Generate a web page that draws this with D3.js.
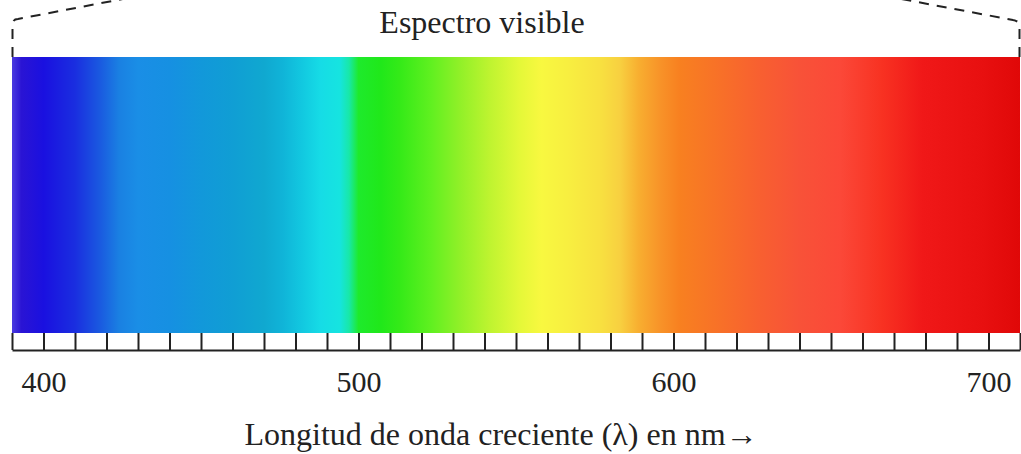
<!DOCTYPE html>
<html>
<head>
<meta charset="utf-8">
<script src="https://cdn.jsdelivr.net/npm/d3@7"></script>
<style>
  body { margin: 0; background: #fff; }
  svg text { font-family: "Liberation Serif", "Times New Roman", Tinos, "DejaVu Serif", serif !important; fill: #222; }
</style>
</head>
<body>
<div id="chart"></div>
<script>
// wavelength range shown (nm)
var domainNm = [390, 710];
// colour stops, by wavelength
var stopNm = [390, 393, 400, 410, 418, 424, 430, 440, 450, 460, 470, 476, 482, 488, 494, 497, 500, 507, 513, 523, 532, 542, 551, 558, 567, 577, 583, 589, 596, 602, 615, 627, 640, 653, 666, 679, 698, 710];
var stopColors = ["#4a3ae0", "#2a14d4", "#1a10e0", "#1a2ee0", "#1a5ae0", "#1a80e2", "#1a8ee6", "#1690e2", "#1298da", "#109ed4", "#10a8d0", "#10b4d8", "#12c8e0", "#16dce6", "#16e4e0", "#18e8a8", "#1eea2c", "#20e81a", "#34ea18", "#60f020", "#90f028", "#c0f430", "#e4f838", "#f8f840", "#f8ee40", "#f8e040", "#f8d040", "#f8ae30", "#f89228", "#f88020", "#f87028", "#f86030", "#f85238", "#fb4838", "#f83222", "#f01818", "#e81010", "#e00808"];
// small ticks every 10 nm, labels every 100 nm
var tickNm = d3.range(390, 711, 10);
var labelNm = [400, 500, 600, 700];
var title = "Espectro visible";
var xTitle = "Longitud de onda creciente (\u03bb) en nm\u2192";

var W = 1021, H = 454;
var barTop = 57, barBottom = 333, stripBottom = 350;

var x = d3.scaleLinear().domain(domainNm).range([12, 1020]);

var svg = d3.select("#chart").append("svg").attr("width", W).attr("height", H);

var grad = svg.append("defs").append("linearGradient")
  .attr("id", "spec").attr("gradientUnits", "userSpaceOnUse")
  .attr("x1", x(domainNm[0])).attr("x2", x(domainNm[1])).attr("y1", 0).attr("y2", 0);
grad.selectAll("stop").data(stopNm).enter().append("stop")
  .attr("offset", function (d) { return (d - domainNm[0]) / (domainNm[1] - domainNm[0]); })
  .attr("stop-color", function (d, i) { return stopColors[i]; });

// the coloured band
svg.append("rect")
  .attr("x", x(domainNm[0])).attr("y", barTop)
  .attr("width", x(domainNm[1]) - x(domainNm[0])).attr("height", barBottom - barTop)
  .attr("fill", "url(#spec)");

// tick strip: ticks pointing up from the baseline
var tickAxis = d3.axisTop(x).tickValues(tickNm).tickSize(stripBottom - barBottom).tickSizeOuter(0).tickFormat("");
var tg = svg.append("g").attr("transform", "translate(0," + stripBottom + ")").call(tickAxis);
tg.select(".domain").attr("stroke", "#222").attr("stroke-width", 2.2);
tg.selectAll(".tick line").attr("stroke", "#222").attr("stroke-width", 2);

// labels
var labelAxis = d3.axisBottom(x).tickValues(labelNm).tickSize(0).tickPadding(0);
var lg = svg.append("g").attr("transform", "translate(0,392)").call(labelAxis)
  .attr("font-family", null).attr("font-size", null);
lg.select(".domain").remove();
lg.selectAll(".tick text").attr("dy", 0).attr("y", 0)
  .style("font-size", "30px").attr("fill", "#222");

// dashed bracket above the band
var bracket = svg.append("g").attr("fill", "none").attr("stroke", "#222")
  .attr("stroke-width", 2).attr("stroke-dasharray", "10,8");
var pl = d3.path();
pl.moveTo(x(domainNm[0]) + 0.5, barTop);
pl.lineTo(x(domainNm[0]) + 0.5, 25);
pl.quadraticCurveTo(x(domainNm[0]) + 0.5, 19, 18, 19);
pl.lineTo(128, -2);
bracket.append("path").attr("d", pl.toString());
var pr = d3.path();
pr.moveTo(x(domainNm[1]) - 0.5, barTop);
pr.lineTo(x(domainNm[1]) - 0.5, 27);
pr.quadraticCurveTo(x(domainNm[1]) - 0.5, 21, 1013, 20);
pr.lineTo(896, -2);
bracket.append("path").attr("d", pr.toString());

svg.append("text").attr("x", 482).attr("y", 33).attr("text-anchor", "middle")
  .style("font-size", "32px").text(title);

svg.append("text").attr("x", 501).attr("y", 445).attr("text-anchor", "middle")
  .style("font-size", "32px").text(xTitle);
</script>
</body>
</html>
